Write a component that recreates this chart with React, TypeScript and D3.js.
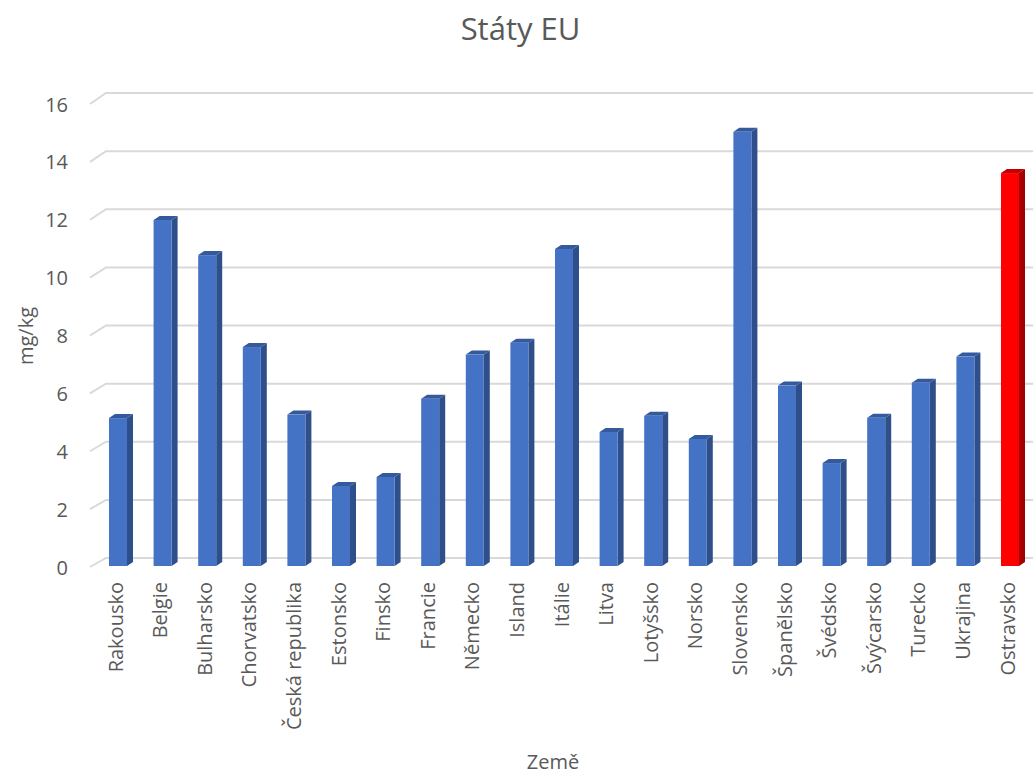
import React from "react";
import * as d3 from "d3";

// Concentration per country (mg/kg)
const countries = [
  "Rakousko", "Belgie", "Bulharsko", "Chorvatsko", "Česká republika", "Estonsko",
  "Finsko", "Francie", "Německo", "Island", "Itálie", "Litva", "Lotyšsko", "Norsko",
  "Slovensko", "Španělsko", "Švédsko", "Švýcarsko", "Turecko", "Ukrajina", "Ostravsko",
];
const values = [
  5.1, 11.93, 10.72, 7.55, 5.22, 2.76, 3.07, 5.77, 7.29, 7.7, 10.93, 4.62, 5.18, 4.38,
  14.97, 6.22, 3.55, 5.11, 6.32, 7.22, 13.55,
];
const highlighted = ["Ostravsko"];
const yTicks = [0, 2, 4, 6, 8, 10, 12, 14, 16];

const W = 1033;
const H = 775;
const FONT = "'Open Sans', sans-serif";
const TEXT = "#595959";
const GRID = "#d9d9d9";

// Pseudo-3D depth offsets
const WALL_DX = 16;
const BAR_W = 18;
const BAR_DX = 6;
const BAR_DY = 4;

export default function App() {
  const x = d3.scaleBand<string>().domain(countries).range([95.7, 1032.3]);
  const yFront = d3.scaleLinear().domain([0, 16]).range([567, 104]);
  const yBack = d3.scaleLinear().domain([0, 16]).range([558, 93]);
  const yBar = d3.scaleLinear().domain([0, 16]).range([566, 566 - 29 * 16]);
  const x0 = 90;

  return (
    <svg width={W} height={H} style={{ position: "absolute", left: 0, top: 0, background: "#fff" }}>
      <text x={W / 2 + 4} y={40} textAnchor="middle" fontFamily={FONT} fontSize={31} fill={TEXT}>
        Státy EU
      </text>

      {/* gridlines on the back wall with a floor-side slant */}
      {yTicks.map((t) => (
        <g key={t}>
          <path
            d={`M${x0},${yFront(t)}L${x0 + WALL_DX},${yBack(t)}L${W},${yBack(t)}`}
            fill="none"
            stroke={GRID}
            strokeWidth={2}
          />
          <text
            x={68}
            y={yFront(t)}
            textAnchor="end"
            dominantBaseline="central"
            fontFamily={FONT}
            fontSize={20}
            fill={TEXT}
          >
            {t}
          </text>
        </g>
      ))}

      {/* bars */}
      {countries.map((c, i) => {
        const v = values[i];
        const cx = (x(c) as number) + x.bandwidth() / 2;
        const l = cx - BAR_W / 2;
        const r = cx + BAR_W / 2;
        const yt = yBar(v);
        const yb = yBar(0);
        const red = highlighted.includes(c);
        const front = red ? "#ff0000" : "#4472c4";
        const side = red ? "#a50000" : "#2f4f8a";
        const top = red ? "#c00000" : "#34599c";
        return (
          <g key={c}>
            <path
              d={`M${r},${yt}L${r + BAR_DX},${yt - BAR_DY}L${r + BAR_DX},${yb - BAR_DY}L${r},${yb}Z`}
              fill={side}
            />
            <path
              d={`M${l},${yt}L${l + BAR_DX},${yt - BAR_DY}L${r + BAR_DX},${yt - BAR_DY}L${r},${yt}Z`}
              fill={top}
            />
            <rect x={l} y={yt} width={BAR_W} height={yb - yt} fill={front} />
            <text
              transform={`translate(${cx - 3},${582}) rotate(-90)`}
              textAnchor="end"
              dominantBaseline="central"
              fontFamily={FONT}
              fontSize={20}
              fill={TEXT}
            >
              {c}
            </text>
          </g>
        );
      })}

      <text x={553} y={769} textAnchor="middle" fontFamily={FONT} fontSize={20} fill={TEXT}>
        Země
      </text>
      <text
        transform={`translate(25,336) rotate(-90)`}
        textAnchor="middle"
        dominantBaseline="central"
        fontFamily={FONT}
        fontSize={20}
        fill={TEXT}
      >
        mg/kg
      </text>
    </svg>
  );
}
